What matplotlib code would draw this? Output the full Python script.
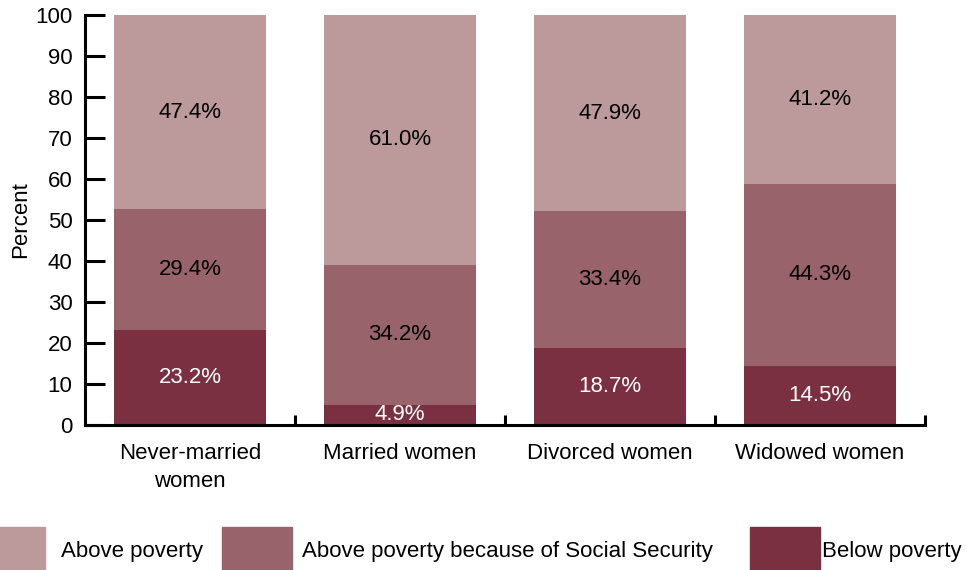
#!/usr/bin/env python3
"""Stacked poverty-status bars for women by marital status."""

import matplotlib.pyplot as plt
from matplotlib.patches import Rectangle
import numpy as np

plt.rcParams["font.family"] = ["Liberation Sans", "DejaVu Sans"]

categories = ["Never-married\nwomen", "Married women", "Divorced women", "Widowed women"]
below_poverty = [23.2, 4.9, 18.7, 14.5]
above_because_ss = [29.4, 34.2, 33.4, 44.3]
above_poverty = [47.4, 61.0, 47.9, 41.2]

series_names = ["Above poverty", "Above poverty because of Social Security", "Below poverty"]
colors = {"below": "#7a3041", "ss": "#98636a", "above": "#bc9a9b"}

FS = 16


def main() -> None:
    fig = plt.figure(figsize=(9.67, 5.70), dpi=100)
    ax = fig.add_axes([0.0879, 0.2544, 0.8687, 0.7193])

    x = np.arange(len(categories))
    width = 0.725
    below = np.array(below_poverty)
    ss = np.array(above_because_ss)
    above = np.array(above_poverty)

    ax.bar(x, below, width, color=colors["below"])
    ax.bar(x, ss, width, bottom=below, color=colors["ss"])
    ax.bar(x, above, width, bottom=below + ss, color=colors["above"])

    for i in range(len(x)):
        ax.text(x[i], below[i] / 2, f"{below[i]:.1f}%", ha="center", va="center",
                color="white", fontsize=FS)
        ax.text(x[i], below[i] + ss[i] / 2, f"{ss[i]:.1f}%", ha="center", va="center",
                color="black", fontsize=FS)
        ax.text(x[i], below[i] + ss[i] + above[i] / 2, f"{above[i]:.1f}%", ha="center",
                va="center", color="black", fontsize=FS)

    ax.set_xlim(-0.5, 3.5)
    ax.set_ylim(0, 100)
    ax.set_yticks(range(0, 101, 10))
    ax.tick_params(axis="y", direction="in", length=14.5, width=2.2, labelsize=FS, pad=9)
    ax.set_xticks(x)
    ax.set_xticklabels(categories, fontsize=FS, linespacing=1.45)
    ax.tick_params(axis="x", which="major", length=0, pad=13)
    ax.set_xticks(x + 0.5, minor=True)
    ax.tick_params(axis="x", which="minor", direction="in", length=7.5, width=2.2)
    for side in ("top", "right"):
        ax.spines[side].set_visible(False)
    for side in ("left", "bottom"):
        ax.spines[side].set_linewidth(2.2)
    ax.set_ylabel("Percent", fontsize=FS, labelpad=3)

    # legend swatches along the bottom edge
    swatch_w = 70 / 967
    swatch_h = 43 / 570
    swatches = [(-25 / 967, colors["above"]), (222 / 967, colors["ss"]), (750 / 967, colors["below"])]
    text_x = [61 / 967, 302 / 967, 822 / 967]
    for (sx, col), tx, name in zip(swatches, text_x, series_names):
        fig.patches.append(Rectangle((sx, 0), swatch_w, swatch_h, transform=fig.transFigure,
                                     color=col, figure=fig))
        fig.text(tx, 18 / 570, name, ha="left", va="center", fontsize=FS)

    fig.savefig("out.png", dpi=100)
    plt.close(fig)


if __name__ == "__main__":
    main()
